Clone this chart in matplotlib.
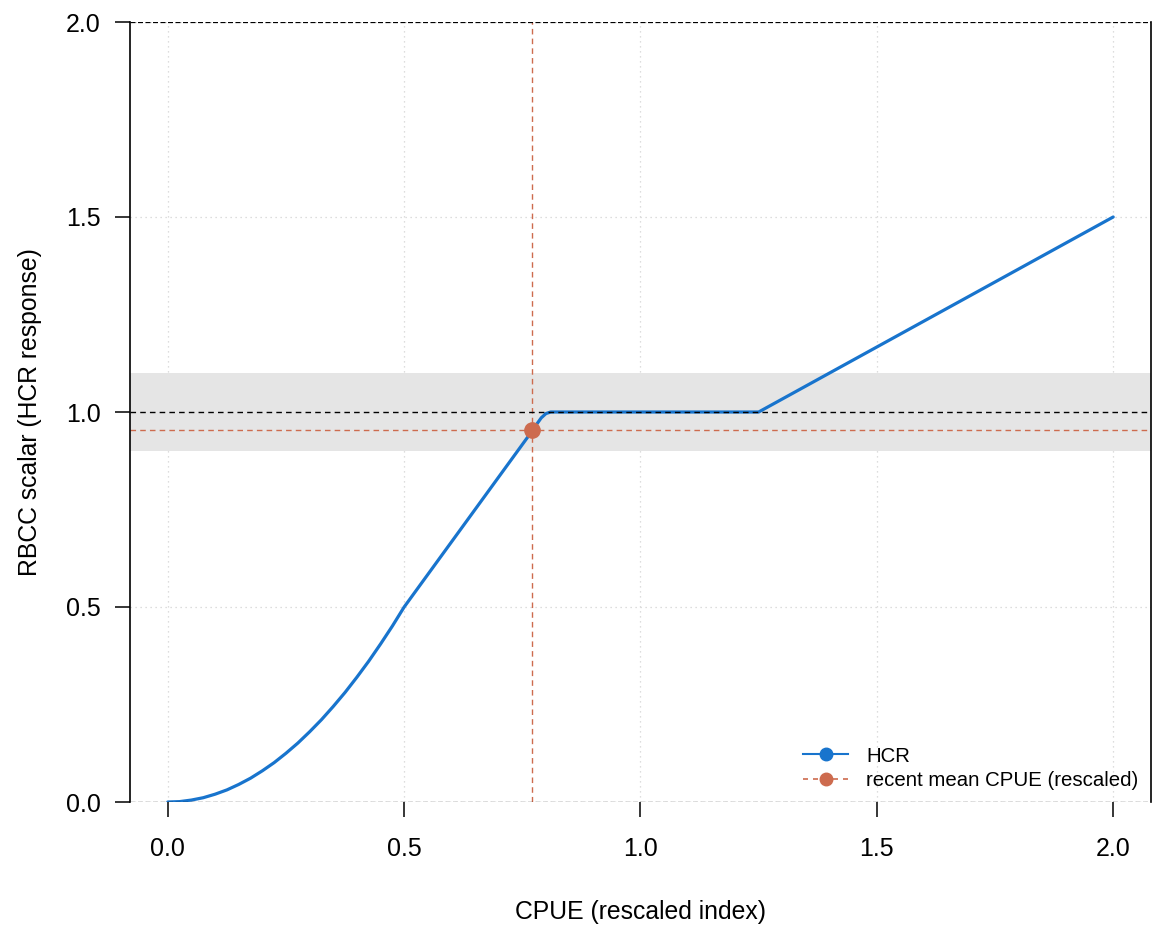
import matplotlib
matplotlib.use("Agg")
import matplotlib.pyplot as plt
from matplotlib.lines import Line2D

plt.rcParams['font.family'] = ['Liberation Sans', 'DejaVu Sans']

# HCR curve
hcr_x = [0.0, 0.025, 0.05, 0.075, 0.1, 0.125, 0.15, 0.175, 0.2, 0.225,
         0.25, 0.275, 0.3, 0.325, 0.35, 0.375, 0.4, 0.425, 0.45, 0.475,
         0.5, 0.77, 0.78, 0.79, 0.80, 0.81, 1.25, 2.0]
hcr_y = [0.0, 0.001, 0.005, 0.011, 0.02, 0.031, 0.045, 0.061, 0.08, 0.101,
         0.125, 0.151, 0.18, 0.211, 0.245, 0.281, 0.32, 0.361, 0.405, 0.451,
         0.5, 0.95, 0.968, 0.985, 0.996, 1.0, 1.0, 1.5]

# recent mean CPUE (rescaled) and its scalar
cpue_now = 0.771
scalar_now = 0.954

band = [0.9, 1.1]
ticks = [0.0, 0.5, 1.0, 1.5, 2.0]

BLUE = "#1874CD"
ORANGE = "#CD6B4E"

fig = plt.figure(figsize=(11.53, 9.26), dpi=100)
ax = fig.add_axes([130 / 1153, 124 / 926, 1021 / 1153, 780 / 926])
ax.set_xlim(-0.08, 2.08)
ax.set_ylim(0, 2)

# grid
for t in ticks:
    ax.axvline(t, color="#D3D3D3", lw=0.9, ls=(0, (1, 3)), zorder=0)
    ax.axhline(t, color="#D3D3D3", lw=0.9, ls=(0, (1, 3)), zorder=0)

# tolerance band
ax.axhspan(band[0], band[1], color="#E5E5E5", lw=0, zorder=0.5)

# HCR line
ax.plot(hcr_x, hcr_y, color=BLUE, lw=2.3, zorder=3, solid_capstyle="round",
        solid_joinstyle="round")

# reference lines
ax.axhline(1.0, color="black", lw=1.0, ls=(0, (4, 3)), zorder=4)
ax.axhline(0.0, color="black", lw=0.9, ls=(0, (4, 2)), zorder=4)
ax.axhline(2.0, color="black", lw=0.9, ls=(0, (4, 2)), zorder=4)
ax.axhline(scalar_now, color=ORANGE, lw=1.0, ls=(0, (4, 3)), zorder=2)
ax.axvline(cpue_now, color=ORANGE, lw=1.0, ls=(0, (4, 3)), zorder=2)
ax.plot([cpue_now], [scalar_now], "o", color=ORANGE, ms=11, zorder=5)

# axes look
ax.spines["top"].set_visible(False)
ax.spines["bottom"].set_visible(False)
ax.spines["left"].set_linewidth(1.2)
ax.spines["right"].set_linewidth(1.2)
ax.set_xticks(ticks)
ax.set_yticks(ticks)
ax.set_xticklabels([f"{t:.1f}" for t in ticks])
ax.set_yticklabels([f"{t:.1f}" for t in ticks])
ax.tick_params(axis="both", length=11, width=1.1, labelsize=18, direction="out")
ax.tick_params(axis="x", pad=14)
ax.tick_params(axis="y", pad=10)

ax.set_xlabel("CPUE (rescaled index)", fontsize=17.8, labelpad=28)
ax.set_ylabel("RBCC scalar (HCR response)", fontsize=17.8, labelpad=17)

handles = [
    Line2D([], [], color=BLUE, lw=1.5, marker="o", ms=9),
    Line2D([], [], color=ORANGE, lw=1.2, ls=(0, (3, 3)), marker="o", ms=9),
]
ax.legend(handles, ["HCR", "recent mean CPUE (rescaled)"], loc="lower right",
          frameon=False, fontsize=14.7, handlelength=2.2, borderaxespad=0.2,
          labelspacing=0.25, handletextpad=0.9)

fig.savefig("out.png", dpi=100)
